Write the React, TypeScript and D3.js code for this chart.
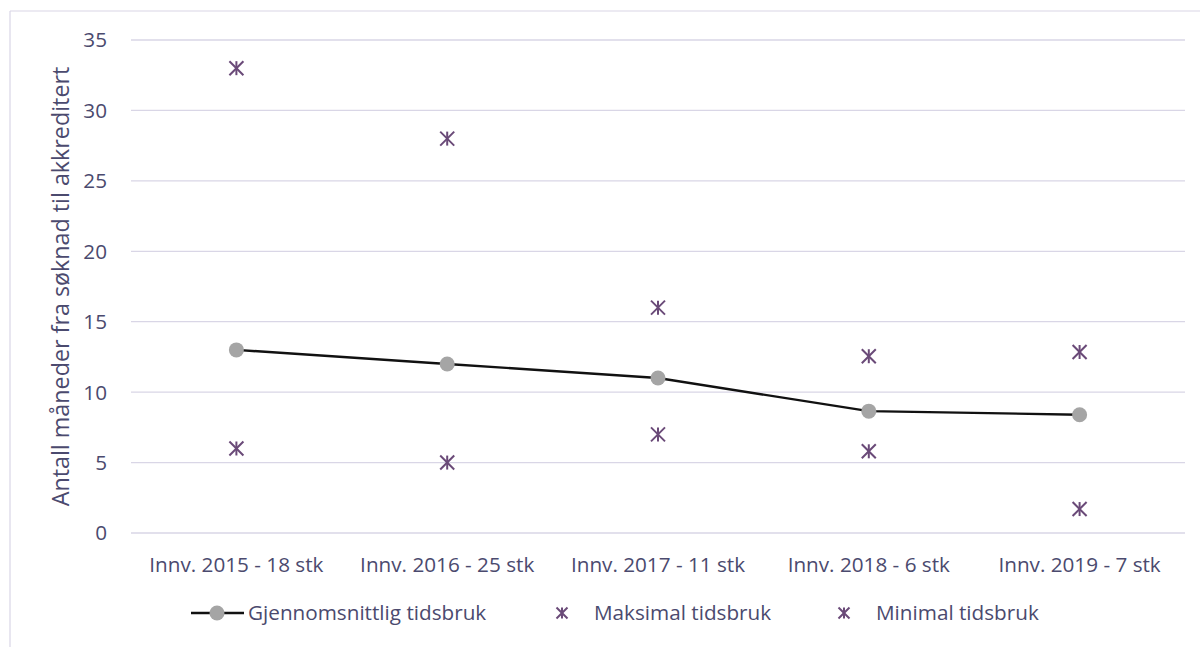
import React from "react";
import * as d3 from "d3";

const categories = ["Innv. 2015 - 18 stk", "Innv. 2016 - 25 stk", "Innv. 2017 - 11 stk", "Innv. 2018 - 6 stk", "Innv. 2019 - 7 stk"];
const avgValues = [13, 12, 11, 8.65, 8.4];
const maxValues = [33, 28, 16, 12.55, 12.85];
const minValues = [6, 5, 7, 5.8, 1.7];
const yTicks = [0, 5, 10, 15, 20, 25, 30, 35];
const seriesNames = ["Gjennomsnittlig tidsbruk", "Maksimal tidsbruk", "Minimal tidsbruk"];
const yTitle = "Antall måneder fra søknad til akkreditert";

const TEXT = "#4b4a6e";
const GRID = "#d9d6e6";
const STAR = "#6a4a78";
const FONT = "'Open Sans', 'Noto Sans', sans-serif";
const FS = 20.7;

function Star({ x, y, s = 7 }: { x: number; y: number; s?: number }) {
  return (
    <g stroke={STAR} strokeWidth={2} fill="none">
      <line x1={x - s} y1={y - s} x2={x + s} y2={y + s} />
      <line x1={x - s} y1={y + s} x2={x + s} y2={y - s} />
      <line x1={x} y1={y - s} x2={x} y2={y + s} />
    </g>
  );
}

export default function App() {
  const W = 1200, H = 647;
  const left = 131, right = 1185, top = 40, bottom = 533;
  const x = d3.scaleBand<string>().domain(categories).range([left, right]);
  const y = d3.scaleLinear().domain([0, 35]).range([bottom, top]);
  const cx = (c: string) => (x(c) as number) + x.bandwidth() / 2;
  const line = d3.line<number>().x((_, i) => cx(categories[i])).y((d) => y(d));

  return (
    <svg width={W} height={H} style={{ position: "absolute", left: 0, top: 0 }} fontFamily={FONT}>
      <rect x={0} y={0} width={W} height={H} fill="#fff" />
      <line x1={10} y1={11} x2={W} y2={11} stroke={GRID} strokeWidth={1.2} />
      <line x1={10} y1={11} x2={10} y2={H} stroke={GRID} strokeWidth={1.2} />
      {yTicks.map((t) => (
        <g key={t}>
          <line x1={left} x2={right} y1={y(t)} y2={y(t)} stroke={GRID} strokeWidth={1.3} />
          <text x={107} y={y(t)} dy="0.36em" textAnchor="end" fontSize={FS} fill={TEXT}>{t}</text>
        </g>
      ))}
      {categories.map((c) => (
        <text key={c} x={cx(c)} y={572} textAnchor="middle" fontSize={FS} fill={TEXT}>{c}</text>
      ))}
      <text transform={`translate(69, ${(top + bottom) / 2}) rotate(-90)`} textAnchor="middle" fontSize={23.3} fill={TEXT}>{yTitle}</text>
      <path d={line(avgValues) || ""} fill="none" stroke="#111" strokeWidth={2.4} />
      {avgValues.map((v, i) => (
        <circle key={i} cx={cx(categories[i])} cy={y(v)} r={7.5} fill="#a5a5a5" />
      ))}
      {maxValues.map((v, i) => <Star key={"mx" + i} x={cx(categories[i])} y={y(v)} />)}
      {minValues.map((v, i) => <Star key={"mn" + i} x={cx(categories[i])} y={y(v)} />)}
      <g>
        <line x1={191} x2={244} y1={613} y2={613} stroke="#111" strokeWidth={2.4} />
        <circle cx={217} cy={613} r={7.5} fill="#a5a5a5" />
        <text x={248} y={613} dy="0.36em" fontSize={FS} fill={TEXT}>{seriesNames[0]}</text>
        <Star x={562} y={613} s={5.5} />
        <text x={594} y={613} dy="0.36em" fontSize={FS} fill={TEXT}>{seriesNames[1]}</text>
        <Star x={844} y={613} s={5.5} />
        <text x={876} y={613} dy="0.36em" fontSize={FS} fill={TEXT}>{seriesNames[2]}</text>
      </g>
    </svg>
  );
}
